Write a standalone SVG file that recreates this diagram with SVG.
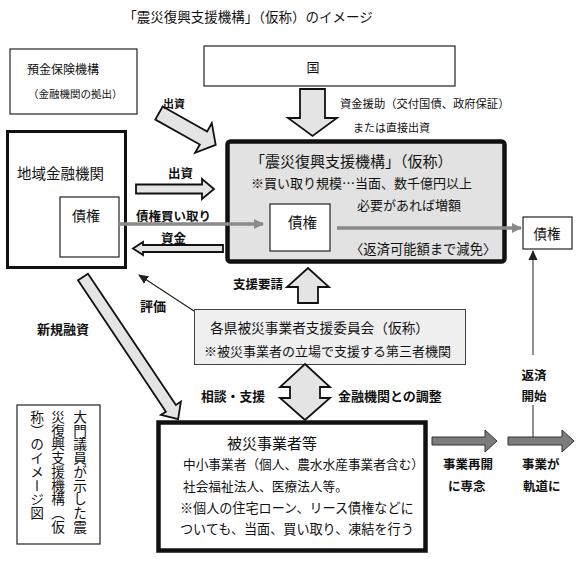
<svg xmlns="http://www.w3.org/2000/svg" width="580" height="562" viewBox="0 0 580 562">
<defs>
<style>
text { font-family: "Noto Sans CJK JP", "Noto Sans", sans-serif; fill: #111; dominant-baseline: central; }
.b { font-weight: bold; }
.thin { fill: #fff; stroke: #222; stroke-width: 1.2; }
.hollow { fill: #e4e4e4; stroke: #111; stroke-width: 1.8; stroke-linejoin: miter; }
.grayarr { fill: #7c7c7c; stroke: #333; stroke-width: 1; }
.vt { writing-mode: vertical-rl; font-size: 13.7px; }
</style>
<marker id="gh" markerUnits="userSpaceOnUse" markerWidth="10" markerHeight="12" refX="9" refY="6" orient="auto"><path d="M0,1 L10,6 L0,11 Z" fill="#8a8a8a"/></marker>
<marker id="bh" markerUnits="userSpaceOnUse" markerWidth="10" markerHeight="10" refX="9" refY="5" orient="auto"><path d="M0,0.5 L10,5 L0,9.5 Z" fill="#222"/></marker>
</defs>
<rect width="580" height="562" fill="#fff"/>

<text id="title" x="248" y="16" font-size="13.5" text-anchor="middle">「震災復興支援機構」（仮称）のイメージ</text>

<g id="dic">
<rect class="thin" x="10" y="49" width="127" height="65"/>
<text x="27" y="68" font-size="12">預金保険機構</text>
<text x="28" y="93" font-size="10.5">（金融機関の拠出）</text>
</g>

<g id="kuni">
<rect class="thin" x="204" y="46" width="251" height="40" stroke-width="1"/>
<text x="313" y="66" font-size="13" text-anchor="middle">国</text>
</g>

<g id="regional-bank">
<rect x="7.5" y="131.5" width="118" height="136" fill="#fff" stroke="#111" stroke-width="3"/>
<text x="17" y="172" font-size="14.5">地域金融機関</text>
<rect class="thin" x="60" y="197" width="59" height="60" stroke-width="1"/>
<text x="72" y="215" font-size="14">債権</text>
</g>

<g id="organization">
<rect x="227.5" y="141.5" width="277" height="120" rx="3" fill="#e2e2e2" stroke="#111" stroke-width="4.5"/>
<text x="250" y="160" font-size="15">「震災復興支援機構」（仮称）</text>
<text x="251" y="182" font-size="13">※買い取り規模…当面、数千億円以上</text>
<text x="357" y="204" font-size="13">必要があれば増額</text>
<rect class="thin" x="270" y="204" width="60" height="47" stroke-width="1"/>
<text x="288" y="221" font-size="14.5">債権</text>
<text x="350" y="248" font-size="13.3">〈返済可能額まで減免〉</text>
</g>

<g id="claim-right">
<rect class="thin" x="523" y="217" width="49" height="32" stroke-width="1"/>
<text x="547" y="233" font-size="13.5" text-anchor="middle">債権</text>
</g>

<g id="committee">
<rect x="194.5" y="309.5" width="271" height="55" fill="#efefef" stroke="#444" stroke-width="1"/>
<text x="210" y="327" font-size="13.7">各県被災事業者支援委員会（仮称）</text>
<text x="204" y="350" font-size="13">※被災事業者の立場で支援する第三者機関</text>
</g>

<g id="victims">
<rect x="158.5" y="422.5" width="267" height="128" fill="#fff" stroke="#111" stroke-width="4.5"/>
<text x="227" y="442" font-size="15">被災事業者等</text>
<text x="183" y="463" font-size="12.7">中小事業者（個人、農水水産事業者含む）</text>
<text x="183" y="485" font-size="12.7">社会福祉法人、医療法人等。</text>
<text x="180" y="507" font-size="13.1">※個人の住宅ローン、リース債権などに</text>
<text x="180" y="528" font-size="13.1">ついても、当面、買い取り、凍結を行う</text>
</g>

<g id="note">
<rect class="thin" x="17" y="405" width="83" height="139" stroke-width="1"/>
<text class="vt" x="80" y="410">大門議員が示した震</text>
<text class="vt" x="58" y="410">災復興支援機構（仮</text>
<text class="vt" x="37" y="410">称）のイメージ図</text>
</g>

<g id="connectors">
<polygon class="hollow" transform="translate(159,113) rotate(29.3)" points="0,-7.5 51,-7.5 51,-17 65,0 51,17 51,7.5 0,7.5"/>
<polygon class="hollow" points="136,184.5 202,184.5 202,179 214,189 202,199 202,193.5 136,193.5"/>
<polygon class="hollow" points="223,245 143,245 143,242 133,248.5 143,255 143,252 223,252"/>
<polygon class="hollow" points="300,89 325,89 325,118 337,118 312.5,136 288,118 300,118"/>
<polygon class="hollow" points="298,303 318,303 318,287 329,287 308,268 287,287 298,287"/>
<polygon class="hollow" points="305,364 330,387 320,387 320,398 330,398 305,420 280,398 290,398 290,387 280,387"/>
<polygon class="hollow" transform="translate(83,277) rotate(56.2)" points="0,-6 158,-6 158,-12 171,0 158,12 158,6 0,6"/>
<line x1="119" y1="224" x2="263" y2="224" stroke="#8a8a8a" stroke-width="3.5" marker-end="url(#gh)"/>
<line x1="337" y1="228" x2="521" y2="228" stroke="#8a8a8a" stroke-width="3.5" marker-end="url(#gh)"/>
<line x1="194" y1="311" x2="139" y2="275" stroke="#222" stroke-width="1.2" marker-end="url(#bh)"/>
<line x1="533" y1="355" x2="533" y2="251" stroke="#444" stroke-width="1.2" marker-end="url(#bh)"/>
<line x1="533" y1="405" x2="533" y2="437" stroke="#444" stroke-width="1.2"/>
<polygon class="grayarr" points="432,437 485,437 485,430 497,441 485,452 485,445 432,445"/>
<polygon class="grayarr" points="508,437 562,437 562,430 574,441 562,452 562,445 508,445"/>
</g>

<g id="labels">
<text class="b" x="163" y="103" font-size="11">出資</text>
<text x="340" y="103" font-size="11.3">資金援助（交付国債、政府保証）</text>
<text x="353" y="127" font-size="11">または直接出資</text>
<text class="b" x="168" y="172" font-size="12.5">出資</text>
<text class="b" x="136" y="215" font-size="12.5">債権買い取り</text>
<text class="b" x="161" y="237" font-size="12.5">資金</text>
<text class="b" x="233" y="283" font-size="12.5">支援要請</text>
<text class="b" x="140" y="305" font-size="13">評価</text>
<text class="b" x="37" y="328" font-size="13">新規融資</text>
<text class="b" x="201" y="395" font-size="12.8">相談・支援</text>
<text class="b" x="338" y="395" font-size="13">金融機関との調整</text>
<text class="b" x="534" y="374" font-size="12.5" text-anchor="middle">返済</text>
<text class="b" x="534" y="395" font-size="12.5" text-anchor="middle">開始</text>
<text class="b" x="443" y="463" font-size="12.5">事業再開</text>
<text class="b" x="448" y="485" font-size="12.5">に専念</text>
<text class="b" x="522" y="463" font-size="12.5">事業が</text>
<text class="b" x="523" y="485" font-size="12.5">軌道に</text>
</g>
</svg>
